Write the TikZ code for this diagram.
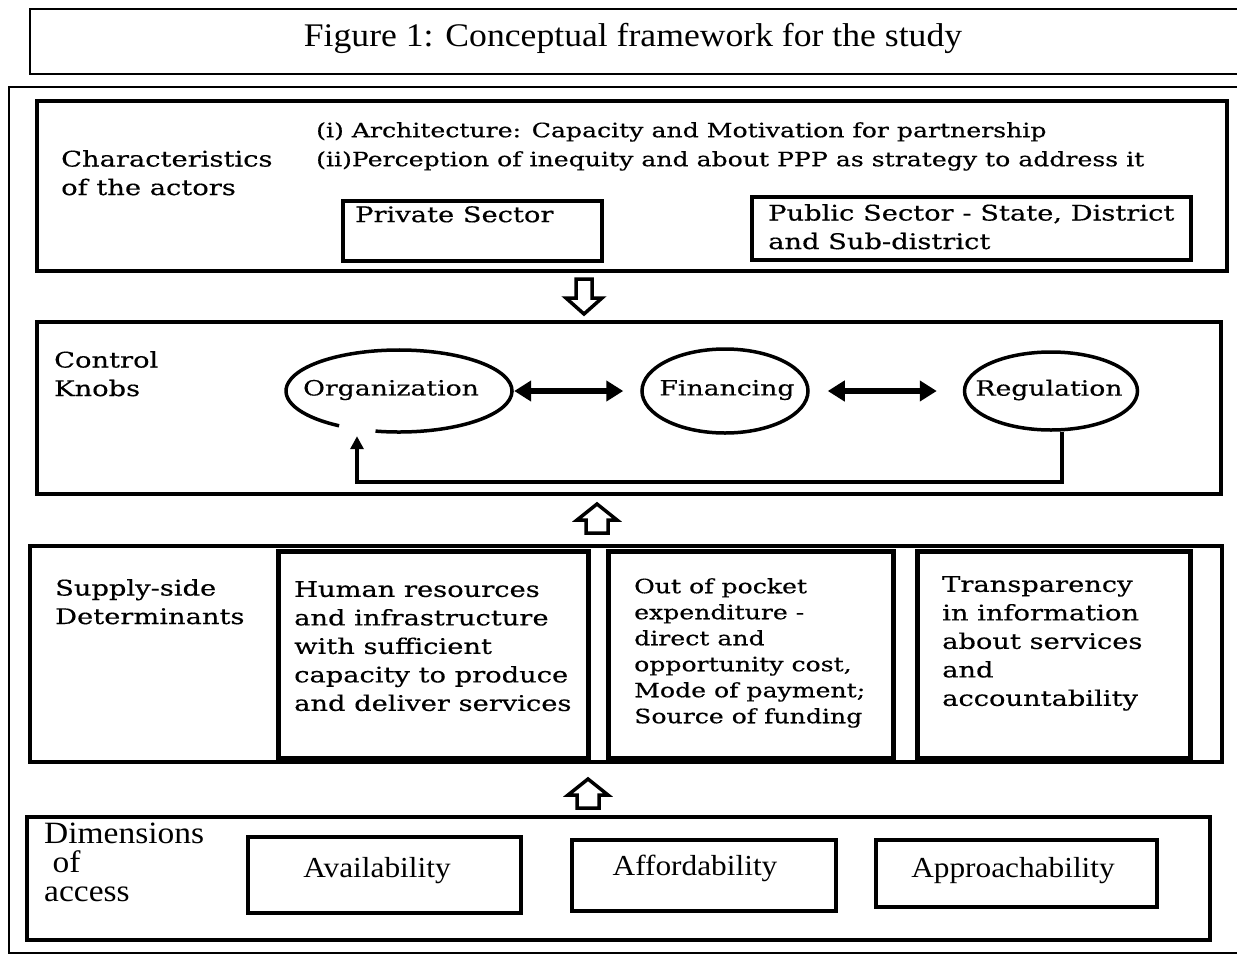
\documentclass[tikz,border=0pt]{standalone}
\usepackage{fontspec}
\setmainfont{DejaVu Serif}[FakeStretch=1.27, FakeBold=0.4]
\newfontfamily\timesf{Liberation Serif}[FakeStretch=1.08]
\usetikzlibrary{arrows.meta,shapes.geometric}
\newcommand{\bk}{\fontsize{21.5}{28.5}\selectfont}
\tikzset{
  thinbox/.style={draw, line width=2pt, inner sep=0},
  thickbox/.style={draw, line width=4.5pt, inner sep=0},
  subbox/.style={draw, line width=4pt, inner sep=0},
  lbl/.style={anchor=north west, inner sep=0, align=left, font=\bk},
  oval/.style={ellipse, inner sep=0},
  ovaltxt/.style={inner sep=0, font=\fontsize{21}{26}\selectfont},
  dbl/.style={line width=6pt, {Triangle[length=17pt,width=20pt]}-{Triangle[length=17pt,width=20pt]}},
  hollow/.style={draw, line width=3.5pt, fill=white, line join=miter},
  tlbl/.style={inner sep=0, font=\timesf\fontsize{29}{32}\selectfont},
}
\begin{document}
\begin{tikzpicture}[x=1pt,y=-1pt]
\useasboundingbox (0,0) rectangle (1237,956);
% title
\node[thinbox, minimum width=1220, minimum height=65] (title) at (640,41.5) {};
\node[font=\timesf\fontsize{33}{38}\selectfont, inner sep=0] (titletxt) at (633,38) {Figure 1: Conceptual framework for the study};
% outer frame
\node[thinbox, minimum width=1240, minimum height=866] (outer) at (629,520) {};
% characteristics block
\node[thickbox, minimum width=1190, minimum height=170] (A) at (632,186) {};
\node[lbl] (chA) at (61,150) {Characteristics\\of the actors};
\node[lbl, font=\fontsize{19.8}{29}\selectfont] (arch) at (316,122) {(i) Architecture: Capacity and Motivation for partnership\\(ii)Perception of inequity and about PPP as strategy to address it};
\node[subbox, minimum width=259, minimum height=60] (priv) at (472.5,231) {};
\node[lbl] (privtxt) at (355,206) {Private Sector};
\node[subbox, minimum width=439, minimum height=63] (pub) at (971.5,228.5) {};
\node[lbl] (pubtxt) at (768,204) {Public Sector - State, District\\and Sub-district};
% hollow down arrow
\draw[hollow] (576,279) -- (592,279) -- (592,298) -- (602,298) -- (584,314) -- (566,298) -- (576,298) -- cycle;
% control knobs block
\node[thickbox, minimum width=1184, minimum height=172] (B) at (629,408) {};
\node[lbl] (ctrl) at (54,351) {Control\\Knobs};
\node[oval, minimum width=226, minimum height=82] (org) at (399,391) {};
\node[oval, draw, line width=3.5pt, minimum width=166, minimum height=84] (fin) at (725,391) {};
\node[oval, draw, line width=3.5pt, minimum width=173, minimum height=78] (reg) at (1051,391) {};
\node[ovaltxt] (orgtxt) at (391,390) {Organization};
\node[ovaltxt] (fintxt) at (727,390) {Financing};
\node[ovaltxt] (regtxt) at (1049,390) {Regulation};
\begin{scope}[shift={(399,391)}, y=1pt]
  \draw[line width=3.5pt] (258:113 and 41) arc[start angle=258, end angle=598, x radius=113, y radius=41];
\end{scope}
\draw[dbl, shorten <=2pt, shorten >=17pt] (org.east) -- (fin.west);
\draw[dbl, shorten <=18pt, shorten >=26pt] (fin.east) -- (reg.west);
\coordinate (loopR) at (1062,482);
\coordinate (loopL) at (357,482);
\draw[line width=3.5pt, -{Triangle[length=13pt,width=13pt]}] ([xshift=11pt]reg.south) -- (loopR) -- (loopL) -- ([yshift=-4pt]org.south -| loopL);
% hollow up arrow
\draw[hollow] (586,533) -- (608,533) -- (608,520) -- (617,520) -- (597,504) -- (577,520) -- (586,520) -- cycle;
% supply side block
\node[thickbox, minimum width=1192, minimum height=216] (C) at (626,654) {};
\node[lbl] (sup) at (55,579) {Supply-side\\Determinants};
\node[draw, line width=5pt, inner sep=0, minimum width=310, minimum height=207] (hr) at (433,654.5) {};
\node[lbl] (hrtxt) at (294,581) {Human resources\\and infrastructure\\with sufficient\\capacity to produce\\and deliver services};
\node[draw, line width=5pt, inner sep=0, minimum width=285, minimum height=207] (oop) at (750.5,654.5) {};
\node[lbl, font=\fontsize{19.8}{26}\selectfont] (ooptxt) at (634,578) {Out of pocket\\expenditure -\\direct and\\opportunity cost,\\Mode of payment;\\Source of funding};
\node[draw, line width=5pt, inner sep=0, minimum width=273, minimum height=207] (tr) at (1053.5,654.5) {};
\node[lbl] (trtxt) at (942,576) {Transparency\\in information\\about services\\and\\accountability};
% hollow up arrow 2
\draw[hollow] (577,808) -- (599,808) -- (599,795) -- (608,795) -- (588,779) -- (568,795) -- (577,795) -- cycle;
% dimensions block
\node[thickbox, minimum width=1183, minimum height=123] (D) at (618.5,878.5) {};
\node[lbl, font=\timesf\fontsize{31}{29}\selectfont] (dim) at (44,823) {Dimensions\\\ of\\access};
\node[subbox, minimum width=273, minimum height=76] (av) at (384.5,875) {};
\node[tlbl] (avtxt) at (377,871) {Availability};
\node[subbox, minimum width=264, minimum height=71] (af) at (704,875.5) {};
\node[tlbl] (aftxt) at (695,868) {Affordability};
\node[subbox, minimum width=281, minimum height=67] (ap) at (1016.5,873.5) {};
\node[tlbl] (aptxt) at (1013,871) {Approachability};
\end{tikzpicture}
\end{document}
